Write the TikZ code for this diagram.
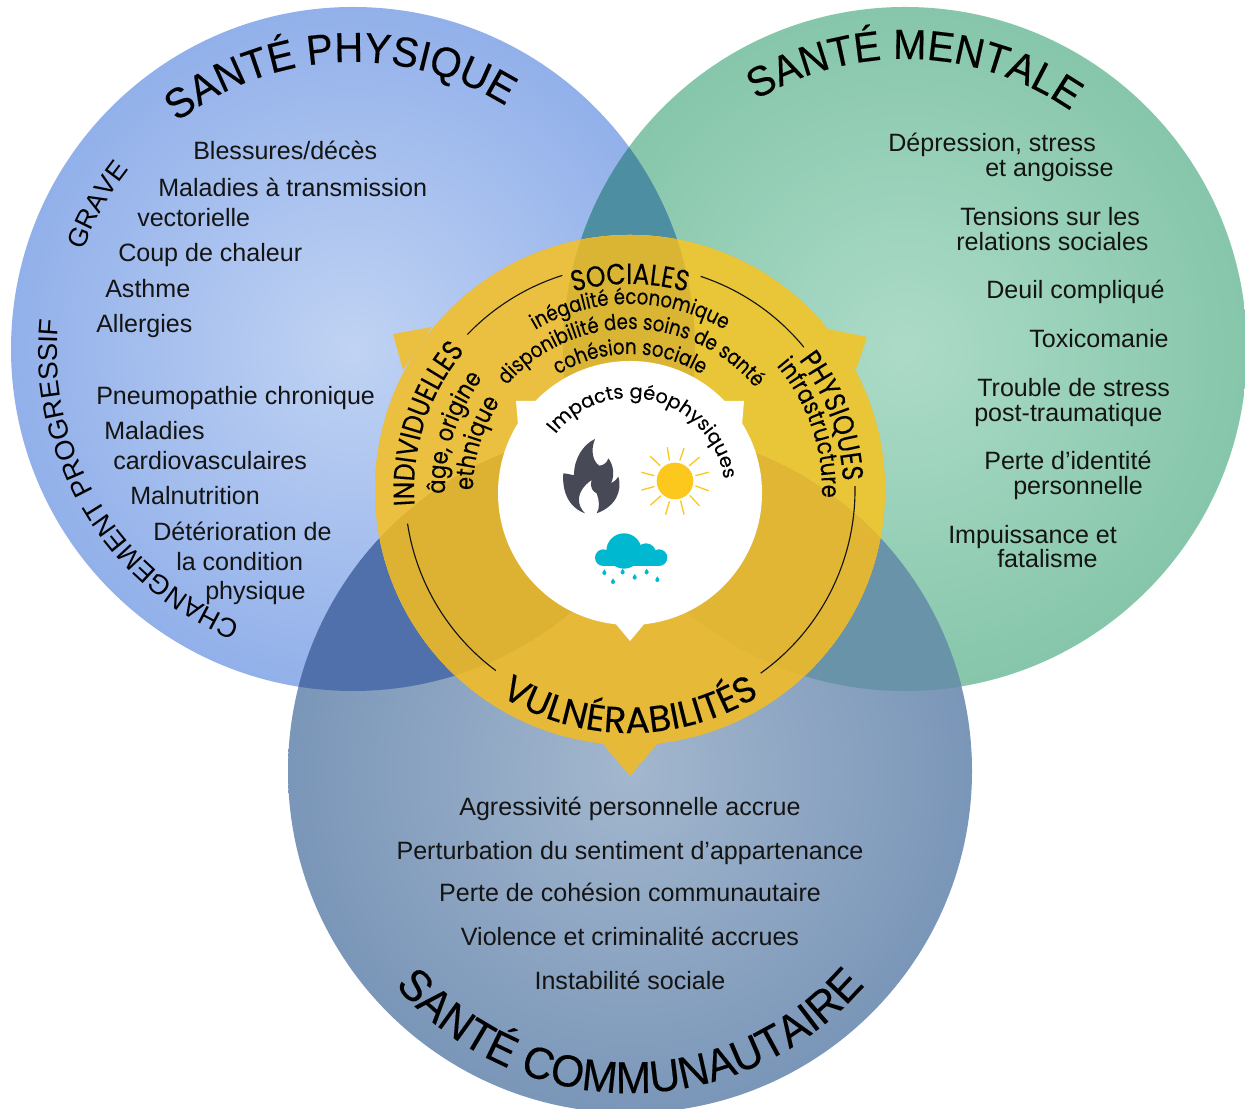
\documentclass[tikz,border=0pt]{standalone}
\usepackage{fontspec}
\usetikzlibrary{decorations.text}
\setmainfont{Liberation Sans}
\newfontfamily\pop[FakeBold=0.15]{Poppins}
\newfontfamily\popn[FakeStretch=0.85,FakeBold=0.15]{Poppins}
\newfontfamily\ttf[FakeStretch=0.95,FakeBold=0.35]{Liberation Sans}
\definecolor{txt}{HTML}{141414}
\definecolor{ybase}{HTML}{E6BA38}
\definecolor{yblue}{HTML}{EBC040}
\definecolor{ygreen}{HTML}{E8C637}
\definecolor{yb2}{HTML}{DAB534}
\definecolor{yb3}{HTML}{DDB233}
\definecolor{yb4}{HTML}{E0B634}
\definecolor{flame}{HTML}{474A56}
\definecolor{sunc}{HTML}{FCC81E}
\definecolor{rainc}{HTML}{00B8D0}
\tikzset{
  listitem/.style={inner sep=0pt,font=\fontsize{18.8}{20}\selectfont,text=txt},
  leftitem/.style={listitem,anchor=base west},
  miditem/.style={listitem,anchor=base},
  vline/.style={draw=txt,line width=0.85pt},
  raystroke/.style={draw=sunc,line width=1pt,line cap=round}
}
\newcommand\ttA{\ttf\fontsize{31.5}{32}\selectfont}
\newcommand\ttB{\ttf\fontsize{33.5}{34}\selectfont}
\newcommand\ttC{\fontsize{20}{22}\selectfont}
\newcommand\ttD{\fontsize{20.4}{22}\selectfont}
\newcommand\heads{\popn\fontsize{22}{24}\selectfont}
\newcommand\subs{\popn\fontsize{16}{18}\selectfont}
\newcommand\subv{\popn\fontsize{18.6}{20}\selectfont}
\newcommand\imp{\pop\fontsize{14.5}{16}\selectfont}
% cx, cy(screen), r, centre angle, half span, font, text
\newcommand\cwtext[7]{\path[decorate,decoration={text along path,text align=center,text={|#6|#7}}]
  ([shift={({#4+#5}:#3)}]#1,{1109-#2}) arc[start angle={#4+#5},end angle={#4-#5},radius=#3];}
\newcommand\ccwtext[7]{\path[decorate,decoration={text along path,text align=center,text={|#6|#7}}]
  ([shift={({#4-#5}:#3)}]#1,{1109-#2}) arc[start angle={#4-#5},end angle={#4+#5},radius=#3];}
\newcommand\Lit[4]{\node[leftitem] (#1) at (#2,{1107.5-#3}) {#4};}
\newcommand\Mit[4]{\node[miditem] (#1) at (#2,{1107.5-#3}) {#4};}
\begin{document}
\begin{tikzpicture}[x=0.75pt,y=0.75pt]
\clip (0,0) rectangle (1245,1109);
\fill[white] (0,0) rectangle (1245,1109);
% circles
\shade[inner color={rgb,255:red,192;green,211;blue,243},outer color={rgb,255:red,146;green,176;blue,234}] (353,760) circle[radius=342];
\shade[inner color={rgb,255:red,172;green,219;blue,200},outer color={rgb,255:red,134;green,198;blue,170}] (905,760) circle[radius=342];
\shade[inner color={rgb,255:red,163;green,183;blue,206},outer color={rgb,255:red,122;green,150;blue,184}] (630,338) circle[radius=342];
\begin{scope}\clip (353,760) circle[radius=342];
  \fill[fill={rgb,255:red,78;green,142;blue,163}] (905,760) circle[radius=342];
  \fill[fill={rgb,255:red,80;green,112;blue,172}] (630,338) circle[radius=342];
\end{scope}
\begin{scope}\clip (905,760) circle[radius=342];
  \fill[fill={rgb,255:red,104;green,147;blue,168}] (630,338) circle[radius=342];
\end{scope}
% yellow disc
\fill[ybase] (630,619) circle[radius=255];
\fill[yblue] (393,775) -- (432,782) -- (403,739) -- cycle;
\fill[ygreen] (867,772) -- (828,780) -- (856,739) -- cycle;
\fill[ybase] (630,333) -- (602,366) -- (658,366) -- cycle;
\begin{scope}\clip (630,619) circle[radius=255];
  \fill[yblue] (353,760) circle[radius=342];
  \fill[ygreen] (905,760) circle[radius=342];
  \begin{scope}\clip (353,760) circle[radius=342];
    \fill[yb2] (905,760) circle[radius=342];
    \fill[yb3] (630,338) circle[radius=342];
  \end{scope}
  \begin{scope}\clip (905,760) circle[radius=342];
    \fill[yb4] (630,338) circle[radius=342];
  \end{scope}
\end{scope}
% white disc
\fill[white] (630,616) circle[radius=132];
\fill[white] (516,708) -- (538,708) -- (518,684) -- cycle;
\fill[white] (744,708) -- (722,708) -- (742,684) -- cycle;
\fill[white] (630,468) -- (615,486) -- (645,486) -- cycle;
% thin arcs
\draw[vline] ([shift={(136.3:225)}]630,619) arc[start angle=136.3,end angle=107.5,radius=225];
\draw[vline] ([shift={(71.7:225)}]630,619) arc[start angle=71.7,end angle=39.4,radius=225];
\draw[vline] ([shift={(1:225)}]630,619) arc[start angle=1,end angle=-54.5,radius=225];
\draw[vline] ([shift={(233.4:225)}]630,619) arc[start angle=233.4,end angle=188.6,radius=225];
% titles
\cwtext{353}{349}{287}{92.8}{50}{\ttA}{SANTÉ PHYSIQUE}
\cwtext{905}{349}{290}{88}{50}{\ttA}{SANTÉ MENTALE}
\ccwtext{630}{783}{310}{270}{70}{\ttB}{SANTÉ COMMUNAUTAIRE}
\cwtext{353}{349}{287}{150.7}{30}{\ttC}{GRAVE}
\cwtext{353}{349}{296}{211}{50}{\ttD}{CHANGEMENT PROGRESSIF}
% vulnerabilities
\cwtext{630}{490}{206}{90}{40}{\heads}{SOCIALES}
\cwtext{630}{490}{216}{162}{35}{\heads}{INDIVIDUELLES}
\cwtext{630}{490}{213}{20}{35}{\heads}{PHYSIQUES}
\ccwtext{630}{490}{243}{270}{45}{\pop\fontsize{27.5}{29}\selectfont}{VULNÉRABILITÉS}
\cwtext{630}{490}{186}{90}{45}{\subs}{inégalité économique}
\cwtext{630}{492}{163}{89.4}{65}{\subs}{disponibilité des soins de santé}
\cwtext{630}{490}{136}{90}{50}{\subs}{cohésion sociale}
\cwtext{630}{490}{185}{162}{30}{\subv}{âge, origine}
\cwtext{630}{490}{157}{163}{30}{\subv}{ethnique}
\cwtext{630}{490}{192}{19}{30}{\subv}{infrastructure}
\cwtext{630}{493}{95}{75}{80}{\imp}{Impacts géophysiques}
% icons in zoom pixels
\begin{scope}[shift={(550,684)},x=0.25pt,y=-0.25pt]
  \fill[flame] (135,42) .. controls (100,58) and (72,100) .. (72,150)
    .. controls (62,150) and (50,145) .. (40,145)
    .. controls (36,190) and (50,245) .. (105,265)
    .. controls (80,240) and (75,200) .. (125,165)
    .. controls (118,190) and (130,200) .. (140,205)
    .. controls (148,225) and (150,250) .. (140,265)
    .. controls (195,245) and (218,200) .. (205,155)
    .. controls (198,165) and (190,172) .. (183,175)
    .. controls (195,150) and (190,120) .. (175,100)
    .. controls (172,112) and (160,122) .. (148,122)
    .. controls (130,110) and (120,80) .. (135,42) -- cycle;
  \fill[sunc] (375,168) circle[radius=55];
  \foreach \ax/\ay/\bx/\by in {352/68/358/105,402/70/390/105,448/97/418/122,475/142/437/152,475/197/437/183,448/242/420/212,402/268/392/228,347/268/358/230,302/240/332/213,275/195/312/185,275/142/312/152,302/95/330/122}
    \draw[raystroke] (\ax,\ay) -- (\bx,\by);
  \fill[rainc] (160,398) circle[radius=25];
  \fill[rainc] (222,378) circle[radius=53];
  \fill[rainc] (288,385) circle[radius=30];
  \fill[rainc] (327,398) circle[radius=25];
  \fill[rainc] (158,385) rectangle (330,423);
  \foreach \dx/\dy in {163/442,218/440,290/440,254/456,189/469,322/463}{
    \fill[rainc] (\dx,\dy+2) circle[radius=6];
    \fill[rainc] (\dx,\dy-9) -- (\dx+5.5,\dy) -- (\dx-5.5,\dy) -- cycle;
  }
\end{scope}
% left list
\Lit{a1}{193}{158}{Blessures/décès}
\Lit{a2}{158}{195}{Maladies à transmission}
\Lit{a3}{137}{225}{vectorielle}
\Lit{a4}{118}{260}{Coup de chaleur}
\Lit{a5}{105}{296}{Asthme}
\Lit{a6}{96}{331}{Allergies}
\Lit{a7}{96}{403}{Pneumopathie chronique}
\Lit{a8}{104}{438}{Maladies}
\Lit{a9}{113}{468}{cardiovasculaires}
\Lit{a10}{130}{503}{Malnutrition}
\Lit{a11}{153}{539}{Détérioration de}
\Lit{a12}{176}{569}{la condition}
\Lit{a13}{205}{598}{physique}
% right list
\Lit{b1}{888}{150}{Dépression, stress}
\Lit{b2}{985}{175}{et angoisse}
\Lit{b3}{960}{224}{Tensions sur les}
\Lit{b4}{956}{249}{relations sociales}
\Lit{b5}{986}{297}{Deuil compliqué}
\Lit{b6}{1029}{346}{Toxicomanie}
\Lit{b7}{977}{395}{Trouble de stress}
\Lit{b8}{974}{420}{post-traumatique}
\Lit{b9}{984}{468}{Perte d’identité}
\Lit{b10}{1013}{493}{personnelle}
\Lit{b11}{948}{542}{Impuissance et}
\Lit{b12}{997}{566}{fatalisme}
% bottom list
\Mit{c1}{630}{814}{Agressivité personnelle accrue}
\Mit{c2}{630}{858}{Perturbation du sentiment d’appartenance}
\Mit{c3}{630}{900}{Perte de cohésion communautaire}
\Mit{c4}{630}{944}{Violence et criminalité accrues}
\Mit{c5}{630}{988}{Instabilité sociale}
\end{tikzpicture}
\end{document}
